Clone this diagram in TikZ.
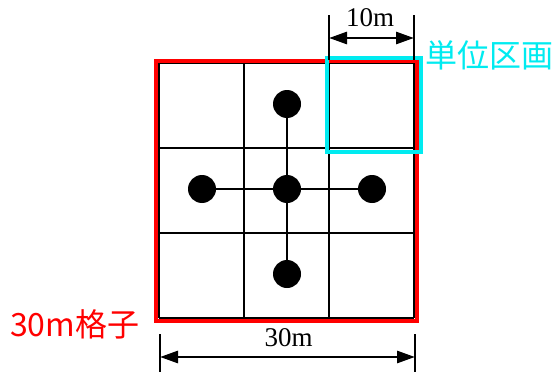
\documentclass[tikz,border=0pt]{standalone}
\usepackage{fontspec}
\newfontfamily\cjk{Noto Sans CJK JP}
\newfontfamily\ser{Liberation Serif}
\usetikzlibrary{arrows.meta}
\definecolor{myred}{RGB}{255,0,0}
\definecolor{mycyan}{RGB}{0,235,240}
\tikzset{
  gridline/.style={line width=2pt,black},
  dot/.style={circle,fill=black,minimum size=28pt,inner sep=0pt},
  link/.style={line width=2pt,black},
  dimline/.style={line width=2.8pt,{Triangle[length=18pt,width=12pt]}-{Triangle[length=18pt,width=12pt]}},
  extline/.style={line width=1.5pt,black},
  dimtext/.style={font=\ser\fontsize{27}{27}\selectfont,inner sep=0pt,anchor=base},
  cjktext/.style={font=\cjk\fontsize{32}{32}\selectfont,inner sep=0pt,anchor=base west}
}
\begin{document}
\begin{tikzpicture}[x=1pt,y=-1pt]
\useasboundingbox (0,0) rectangle (552,372);
% grid
\foreach \v in {159,244,329,414} {
  \draw[gridline] (\v,63) -- (\v,318);
  \draw[gridline] (159,\v-96) -- (414,\v-96);
}
% dots
\node[dot] (n) at (287,104) {};
\node[dot] (c) at (287,189) {};
\node[dot] (w) at (202,189) {};
\node[dot] (e) at (372,189) {};
\node[dot] (s) at (287,274) {};
\draw[link] (n) -- (s);
\draw[link] (w) -- (e);
% red frame
\draw[myred,line width=4pt] (155.5,61) rectangle (417,321);
% cyan unit
\draw[mycyan,line width=4pt] (326.5,57.5) rectangle (421,152);
% 10m dimension
\coordinate (a1) at (329,15);
\coordinate (a2) at (329,60);
\coordinate (b1) at (414,15);
\coordinate (b2) at (414,60);
\draw[extline] (a1) -- (a2);
\draw[extline] (b1) -- (b2);
\coordinate (d1) at (329,38);
\coordinate (d2) at (414,38);
\draw[dimline] (d1) -- (d2);
\node[dimtext] (t10) at (370,27) {10m};
% 30m dimension
\coordinate (p1) at (160,334);
\coordinate (p2) at (160,372);
\coordinate (q1) at (415,334);
\coordinate (q2) at (415,372);
\draw[extline] (p1) -- (p2);
\draw[extline] (q1) -- (q2);
\coordinate (e1) at (160,357);
\coordinate (e2) at (415,357);
\draw[dimline] (e1) -- (e2);
\node[dimtext] (t30) at (288.5,346.5) {30m};
% labels
\node[cjktext,text=mycyan] (unit) at (425,67) {単位区画};
\node[cjktext,text=myred] (grid) at (10,336) {30m格子};
\end{tikzpicture}
\end{document}
